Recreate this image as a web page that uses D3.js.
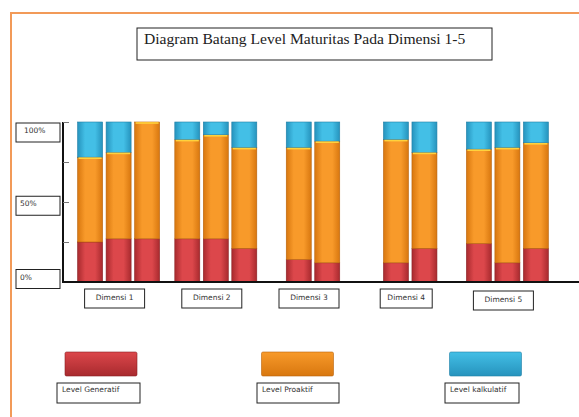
<!DOCTYPE html>
<html>
<head>
<meta charset="utf-8">
<script src="https://cdn.jsdelivr.net/npm/d3@7"></script>
<style>
  body { margin: 0; background: #fff; }
  svg { display: block; }
  .lbl { font-family: "DejaVu Sans", Verdana, sans-serif; font-size: 7.5px; fill: #333; }
  .box { fill: #fff; stroke: #222; stroke-width: 1; }
  .title { font-family: "Liberation Serif", "DejaVu Serif", serif; font-size: 15.6px; fill: #222; }
</style>
</head>
<body>
<svg id="chart" width="579" height="417"></svg>
<script>
// data (percent of each bar)
const dimensions = ["Dimensi 1", "Dimensi 2", "Dimensi 3", "Dimensi 4", "Dimensi 5"];
const barsPerDim = [3, 3, 2, 2, 3];
const generatif = [25, 27, 27, 27, 27, 21, 14, 12, 12, 21, 24, 12, 21];
const proaktif = [53, 54, 73, 62, 65, 63, 70, 76, 77, 60, 59, 72, 66];
const kalkulatif = [22, 19, 0, 11, 8, 16, 16, 12, 11, 19, 17, 16, 13];
const levels = ["Level Generatif", "Level Proaktif", "Level kalkulatif"];
const yTickValues = [0, 25, 50, 75, 100];
const yLabelValues = [100, 50, 0];
const yLabelText = ["100%", "50%", "0%"];
const title = "Diagram Batang Level Maturitas Pada Dimensi 1-5";

const svg = d3.select("#chart");
const defs = svg.append("defs");

// colour ramps: edge, middle, outline
const palette = [
  { id: "gen", edge: "#a82a2e", mid: "#dc474b", line: "#8a2024" },
  { id: "pro", edge: "#d8770f", mid: "#f89a2a", line: "#b8630c" },
  { id: "kal", edge: "#2693bd", mid: "#43bfe6", line: "#1f7fa6" }
];
palette.forEach((p) => {
  const g = defs.append("linearGradient").attr("id", "h-" + p.id)
    .attr("x1", "0%").attr("x2", "100%").attr("y1", "0%").attr("y2", "0%");
  g.append("stop").attr("offset", "0%").attr("stop-color", p.edge);
  g.append("stop").attr("offset", "30%").attr("stop-color", p.mid);
  g.append("stop").attr("offset", "70%").attr("stop-color", p.mid);
  g.append("stop").attr("offset", "100%").attr("stop-color", p.edge);
  const v = defs.append("linearGradient").attr("id", "v-" + p.id)
    .attr("x1", "0%").attr("x2", "0%").attr("y1", "0%").attr("y2", "100%");
  v.append("stop").attr("offset", "0%").attr("stop-color", p.mid);
  v.append("stop").attr("offset", "100%").attr("stop-color", p.edge);
});

// orange frame
svg.append("path")
  .attr("d", "M11,417 V13 H579")
  .attr("fill", "none")
  .attr("stroke", "#f29a58")
  .attr("stroke-width", 2);

// title box
svg.append("rect").attr("class", "box")
  .attr("x", 137).attr("y", 28).attr("width", 355).attr("height", 32)
  .attr("stroke", "#444").attr("stroke-width", 1.2);
svg.append("text").attr("class", "title")
  .attr("x", 144).attr("y", 44)
  .text(title);

// scales
const y = d3.scaleLinear().domain([0, 100]).range([282, 122]);
const xGroup = d3.scaleBand().domain(dimensions).range([70, 556]);
const barW = 25, barStep = 28.5;

// flatten bars
let k = 0;
const bars = [];
dimensions.forEach((dim, d) => {
  const n = barsPerDim[d];
  const c = xGroup(dim) + xGroup.bandwidth() / 2;
  const half = (barStep * n - (barStep - barW)) / 2;
  const xi = d3.scaleBand().domain(d3.range(n)).range([c - half, c + half])
    .paddingInner((barStep - barW) / barStep);
  for (let i = 0; i < n; i++) {
    const vals = [generatif[k], proaktif[k], kalkulatif[k]];
    let acc = 0;
    const segs = vals.map((v, s) => {
      const seg = { s, y0: acc, y1: acc + v };
      acc += v;
      return seg;
    });
    bars.push({ x: xi(i), w: xi.bandwidth(), segs });
    k++;
  }
});

const barG = svg.append("g");
const barSel = barG.selectAll("g.bar").data(bars).join("g").attr("class", "bar");
barSel.selectAll("rect.seg")
  .data((b) => b.segs.filter((s) => s.y1 > s.y0).map((s) => ({ ...s, x: b.x, w: b.w })))
  .join("rect")
  .attr("class", "seg")
  .attr("x", (s) => s.x)
  .attr("y", (s) => y(s.y1))
  .attr("width", (s) => s.w)
  .attr("height", (s) => y(s.y0) - y(s.y1))
  .attr("fill", (s) => `url(#h-${palette[s.s].id})`)
  .attr("stroke", (s) => palette[s.s].line)
  .attr("stroke-width", 0.6);

// yellow highlight on top of orange
barSel.selectAll("line.hl")
  .data((b) => b.segs.filter((s) => s.s === 1).map((s) => ({ ...s, x: b.x, w: b.w })))
  .join("line")
  .attr("class", "hl")
  .attr("x1", (s) => s.x + 1).attr("x2", (s) => s.x + s.w - 1)
  .attr("y1", (s) => y(s.y1) + 1).attr("y2", (s) => y(s.y1) + 1)
  .attr("stroke", "#ffd23c").attr("stroke-width", 1.6);

// y axis with ticks on the right side of the line
const yAxis = svg.append("g")
  .attr("transform", "translate(63,0)")
  .call(d3.axisRight(y).tickValues(yTickValues).tickSize(6).tickFormat(""));
yAxis.select(".domain").attr("stroke", "#111").attr("stroke-width", 2).attr("d", `M0,${y(100)}V${y(0)}`);
yAxis.selectAll(".tick line").attr("stroke", "#777");

// baseline
svg.append("line")
  .attr("x1", 62).attr("x2", 579)
  .attr("y1", y(0)).attr("y2", y(0))
  .attr("stroke", "#111").attr("stroke-width", 2);

// y labels in boxes
const yBox = d3.scaleLinear().domain([0, 100]).range([279, 132.5]);
const yl = svg.selectAll("g.ylab").data(yLabelValues).join("g").attr("class", "ylab")
  .attr("transform", (v) => `translate(16,${yBox(v) - 9.5})`);
yl.append("rect").attr("class", "box").attr("width", 44).attr("height", 19);
yl.append("text").attr("class", "lbl").attr("x", (v, i) => (i === 0 ? 8 : 4)).attr("y", 10)
  .text((v, i) => yLabelText[i]);

// x labels in boxes
const xl = svg.selectAll("g.xlab").data(dimensions).join("g").attr("class", "xlab")
  .attr("transform", (d) => `translate(${xGroup(d) + xGroup.bandwidth() / 2 - 4},${d === "Dimensi 5" ? 300.5 : 298.5})`);
xl.append("rect").attr("class", "box").attr("x", (d) => (d === "Dimensi 4" ? -26 : -30)).attr("y", -9.5)
  .attr("width", (d) => (d === "Dimensi 4" ? 52 : 60)).attr("height", 19);
xl.append("text").attr("class", "lbl").attr("text-anchor", "middle").attr("y", 1.5).text((d) => d);

// legend: swatch centre, label box left edge and width
const legendX = d3.scaleOrdinal().domain(levels).range([101, 297.5, 485.5]);
const legendBox = d3.scaleOrdinal().domain(levels).range([[57, 83], [257, 82], [445, 74]]);
const lg = svg.selectAll("g.leg").data(levels).join("g").attr("class", "leg");
lg.append("rect")
  .attr("x", (d) => legendX(d) - 36).attr("y", 352).attr("width", 72).attr("height", 24).attr("rx", 1.5)
  .attr("fill", (d, i) => `url(#v-${palette[i].id})`)
  .attr("stroke", (d, i) => palette[i].line).attr("stroke-width", 0.6);
lg.append("rect").attr("class", "box")
  .attr("x", (d) => legendBox(d)[0]).attr("y", 383)
  .attr("width", (d) => legendBox(d)[1]).attr("height", 20);
lg.append("text").attr("class", "lbl")
  .attr("x", (d) => legendBox(d)[0] + 5).attr("y", 392).text((d) => d);
</script>
</body>
</html>
